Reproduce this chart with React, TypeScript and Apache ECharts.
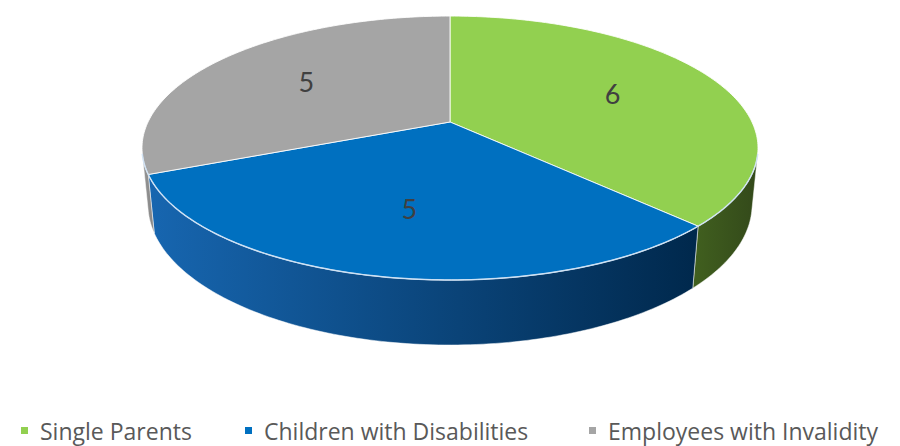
import React, { useEffect, useRef } from 'react';
import * as echarts from 'echarts';

// ---- data ----
const categories: string[] = ['Single Parents', 'Children with Disabilities', 'Employees with Invalidity'];
const values: number[] = [6, 5, 5];

// ---- styles ----
const topColors = ['#92D050', '#0070C0', '#A5A5A5'];
const sideColors: [string, string][] = [
  ['#41601F', '#33491A'],
  ['#1766B0', '#00284C'],
  ['#969696', '#858585'],
];
const legendLefts = [21, 245, 589];
const LABEL_FONT = 'Lato, "Open Sans", sans-serif';
const LEGEND_FONT = '"Open Sans", Lato, sans-serif';

// ---- perspective projection of a unit-radius disc ----
const X0 = 450;
const Y0 = 122;
const F = 1389;
const L = 4.6;
const SIN_A = 0.42;
const COS_A = 0.907;
const H = 0.206;
const TS = (Math.acos(-1 / (L * COS_A)) * 180) / Math.PI; // silhouette angle

function project(theta: number, r: number, z: number): number[] {
  const rad = (theta * Math.PI) / 180;
  const u = r * Math.sin(rad);
  const v = -r * Math.cos(rad);
  const depth = L - v * COS_A - z * SIN_A;
  return [X0 + (F * u) / depth, Y0 + (F * (v * SIN_A - z * COS_A)) / depth];
}

function arc(a0: number, a1: number, z: number): number[][] {
  const n = Math.max(2, Math.ceil(a1 - a0));
  const pts: number[][] = [];
  for (let k = 0; k <= n; k++) pts.push(project(a0 + ((a1 - a0) * k) / n, 1, z));
  return pts;
}

const total = values.reduce((a, b) => a + b, 0);

function makeRender(i: number) {
  return (_params: any, api: any) => {
    const val = api.value(0) as number;
    const before = values.slice(0, i).reduce((a, b) => a + b, 0);
    const a0 = (before / total) * 360;
    const a1 = a0 + (val / total) * 360;
    const children: any[] = [];
    const s0 = Math.max(a0, TS);
    const s1 = Math.min(a1, 360 - TS);
    if (s1 > s0) {
      const topArc = arc(s0, s1, 0);
      const botArc = arc(s0, s1, -H).reverse();
      children.push({
        type: 'polygon',
        z2: 1,
        shape: { points: topArc.concat(botArc) },
        style: {
          fill: new echarts.graphic.LinearGradient(0, 0, 1, 0, [
            { offset: 0, color: sideColors[i][0] },
            { offset: 1, color: sideColors[i][1] },
          ]),
          stroke: 'rgba(255,255,255,0.5)',
          lineWidth: 1,
        },
      });
      children.push({
        type: 'polyline',
        z2: 6,
        shape: { points: topArc },
        style: { stroke: 'rgba(205,225,245,0.85)', lineWidth: 1.5, fill: null },
      });
    }
    const topPts = [project(0, 0, 0)].concat(arc(a0, a1, 0));
    children.push({
      type: 'polygon',
      z2: 5,
      shape: { points: topPts },
      style: { fill: topColors[i], stroke: 'rgba(255,255,255,0.85)', lineWidth: 1, lineJoin: 'round' },
    });
    const lp = project((a0 + a1) / 2, 0.61, 0);
    children.push({
      type: 'text',
      z2: 10,
      x: lp[0],
      y: lp[1],
      style: {
        text: String(val),
        fill: '#404040',
        fontSize: 27,
        fontFamily: LABEL_FONT,
        align: 'center',
        verticalAlign: 'middle',
      },
    });
    return { type: 'group', children };
  };
}

export default function App() {
  const ref = useRef<HTMLDivElement>(null);
  useEffect(() => {
    if (!ref.current) return;
    const chart = echarts.init(ref.current, undefined, { renderer: 'svg' });
    chart.setOption({
      animation: false,
      backgroundColor: '#ffffff',
      legend: categories.map((name, i) => ({
        data: [{ name, itemStyle: { color: topColors[i] } }],
        left: legendLefts[i],
        top: 419,
        padding: 0,
        icon: 'rect',
        itemWidth: 7,
        itemHeight: 7,
        selectedMode: false,
        textStyle: {
          color: '#595959',
          fontSize: 23,
          lineHeight: 22,
          fontFamily: LEGEND_FONT,
          padding: [0, 0, 0, 7],
        },
      })),
      series: categories.map((name, i) => ({
        type: 'custom',
        name,
        coordinateSystem: 'none',
        itemStyle: { color: topColors[i] },
        renderItem: makeRender(i),
        data: [[values[i]]],
      })),
    });
    return () => chart.dispose();
  }, []);
  return (
    <div
      ref={ref}
      style={{ position: 'fixed', left: 0, top: 0, width: 900, height: 446 }}
    />
  );
}
